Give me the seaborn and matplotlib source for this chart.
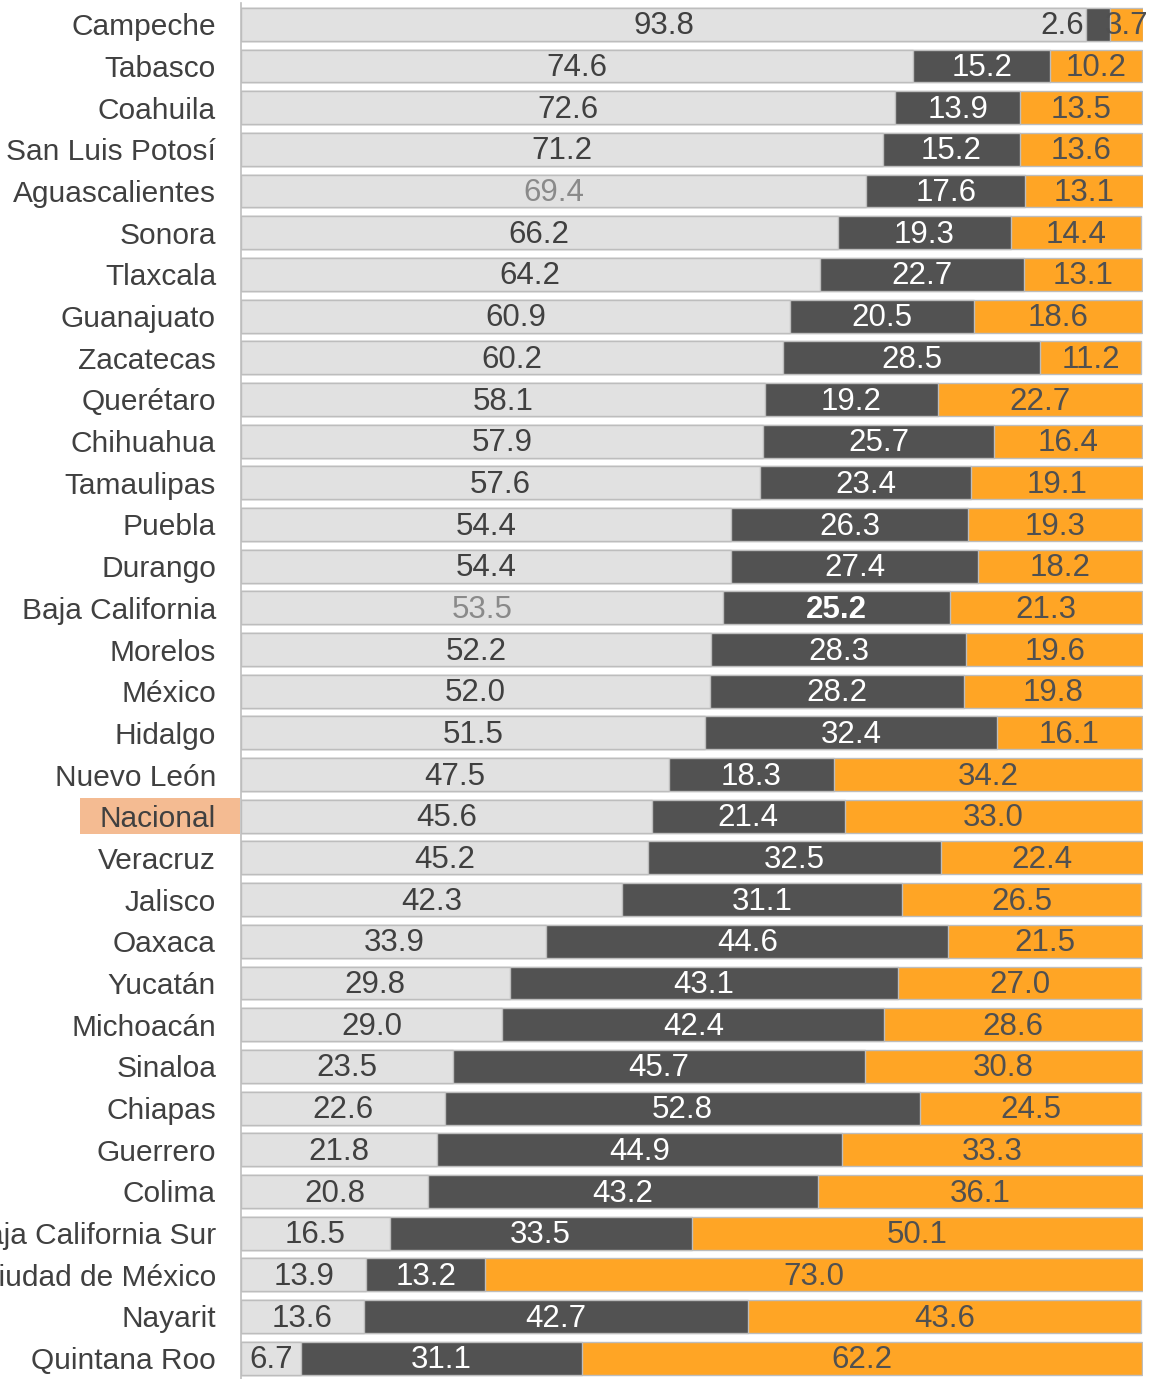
import matplotlib
matplotlib.use("Agg")
import matplotlib.pyplot as plt
import matplotlib.transforms as mtransforms
from matplotlib.patches import Rectangle
import seaborn as sns
import numpy as np
import pandas as pd

# ==============================
# 数据
# ==============================
states = [
    "Campeche", "Tabasco", "Coahuila", "San Luis Potosí", "Aguascalientes",
    "Sonora", "Tlaxcala", "Guanajuato", "Zacatecas", "Querétaro",
    "Chihuahua", "Tamaulipas", "Puebla", "Durango", "Baja California",
    "Morelos", "México", "Hidalgo", "Nuevo León", "Nacional",
    "Veracruz", "Jalisco", "Oaxaca", "Yucatán", "Michoacán",
    "Sinaloa", "Chiapas", "Guerrero", "Colima", "Baja California Sur",
    "Ciudad de México", "Nayarit", "Quintana Roo",
]
light_vals = [93.8, 74.6, 72.6, 71.2, 69.4, 66.2, 64.2, 60.9, 60.2, 58.1,
              57.9, 57.6, 54.4, 54.4, 53.5, 52.2, 52.0, 51.5, 47.5, 45.6,
              45.2, 42.3, 33.9, 29.8, 29.0, 23.5, 22.6, 21.8, 20.8, 16.5,
              13.9, 13.6, 6.7]
dark_vals = [2.6, 15.2, 13.9, 15.2, 17.6, 19.3, 22.7, 20.5, 28.5, 19.2,
             25.7, 23.4, 26.3, 27.4, 25.2, 28.3, 28.2, 32.4, 18.3, 21.4,
             32.5, 31.1, 44.6, 43.1, 42.4, 45.7, 52.8, 44.9, 43.2, 33.5,
             13.2, 42.7, 31.1]
orange_vals = [3.7, 10.2, 13.5, 13.6, 13.1, 14.4, 13.1, 18.6, 11.2, 22.7,
               16.4, 19.1, 19.3, 18.2, 21.3, 19.6, 19.8, 16.1, 34.2, 33.0,
               22.4, 26.5, 21.5, 27.0, 28.6, 30.8, 24.5, 33.3, 36.1, 50.1,
               73.0, 43.6, 62.2]

HIGHLIGHT = "Nacional"
GRAY_LABELS = {("Aguascalientes", 0), ("Baja California", 0)}
BOLD_LABELS = {("Baja California", 1)}

# ==============================
# 样式
# ==============================
C_LIGHT = "#e1e1e1"
C_DARK = "#525252"
C_ORANGE = "#ffa525"
C_EDGE = "#bdbdbd"
C_HIGHLIGHT = "#f4bb92"
FONT = "Liberation Sans"
FS_NUM = 22.5
FS_LAB = 21.5

df = pd.DataFrame({"state": states, "light": light_vals,
                   "dark": dark_vals, "orange": orange_vals})
df["c1"] = df["light"]
df["c2"] = df["light"] + df["dark"]
df["c3"] = df["c2"] + df["orange"]

sns.set_style("white")
plt.rcParams["font.family"] = [FONT, "DejaVu Sans"]

fig = plt.figure(figsize=(11.55, 13.79), dpi=100)
ax = fig.add_axes([241 / 1155, 0.0, (1143 - 241) / 1155, 0.9975])
ax.set_zorder(2)
ax.patch.set_visible(False)

kw = dict(y="state", orient="h", width=0.79, edgecolor=C_EDGE,
          linewidth=1.0, ax=ax, order=states)
sns.barplot(data=df, x="c3", color=C_ORANGE, saturation=1, **kw)
sns.barplot(data=df, x="c2", color=C_DARK, saturation=1, **kw)
sns.barplot(data=df, x="c1", color=C_LIGHT, saturation=1, **kw)

ax.set_xlim(0, 100.1)
ax.set_ylim(len(states) - 0.5, -0.5)
ax.set_xlabel("")
ax.set_ylabel("")
ax.set_xticks([])
for s in ["top", "right", "bottom"]:
    ax.spines[s].set_visible(False)
ax.spines["left"].set_color(C_EDGE)
ax.spines["left"].set_linewidth(1.2)
ax.tick_params(axis="y", length=0, pad=18, labelsize=FS_LAB,
               labelcolor="#404040")

# 段内数值标签
for i, row in df.iterrows():
    segs = [(row["light"], 0, row["c1"] / 2, "#404040"),
            (row["dark"], 1, (row["c1"] + row["c2"]) / 2, "white"),
            (row["orange"], 2, (row["c2"] + row["c3"]) / 2, "#505050")]
    for val, k, xc, col in segs:
        ha = "center"
        if (row["state"], k) in GRAY_LABELS:
            col = "#8a8a8a"
        weight = "bold" if (row["state"], k) in BOLD_LABELS else "normal"
        if k == 1 and val < 5:
            # 段太窄，标签放在左侧
            xc = row["c1"] - 0.3
            ha = "right"
            col = "#404040"
        ax.text(xc, i + 0.05, f"{val:.1f}", ha=ha, va="center",
                fontsize=FS_NUM, color=col, fontweight=weight)

# Nacional 高亮
idx = states.index(HIGHLIGHT)
trans = mtransforms.blended_transform_factory(fig.transFigure, ax.transData)
fig.patches.append(Rectangle((80 / 1155, idx - 0.43), 160 / 1155, 0.86,
                             transform=trans, facecolor=C_HIGHLIGHT,
                             edgecolor="none", zorder=0))

fig.savefig("out.png", dpi=100)
